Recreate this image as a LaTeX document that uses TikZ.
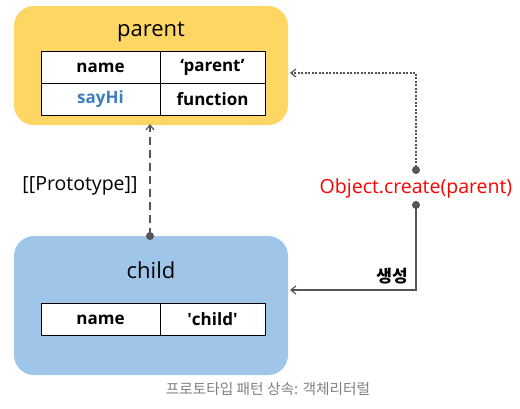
\documentclass[tikz,border=0pt]{standalone}
\usepackage{fontspec}
\setmainfont{Open Sans}
\newfontfamily\krfont{Noto Sans CJK KR}
\usetikzlibrary{arrows.meta}
\definecolor{pyellow}{HTML}{FDD663}
\definecolor{cblue}{HTML}{9FC5E8}
\definecolor{linegray}{HTML}{555555}
\definecolor{hiblue}{HTML}{3D7EBF}
\begin{document}
\begin{tikzpicture}[x=1pt,y=-1pt,
  objbox/.style={fill=#1,rounded corners=20pt,draw=none},
  cell/.style={draw=black,line width=1pt,fill=white,minimum height=32pt,inner sep=0pt,font=\fontsize{17}{17}\selectfont\bfseries},
  title/.style={font=\fontsize{22}{22}\selectfont},
  conn/.style={draw=linegray,line width=2.6pt},
  tip/.style={-{Straight Barb[length=5pt,width=8pt,line width=1.2pt]}},
  dotc/.style={circle,fill=linegray,inner sep=0pt,minimum size=8pt}]
\useasboundingbox (0,0) rectangle (520,408);
% parent
\fill[objbox=pyellow] (14,6) rectangle (288,125);
\node[title] (ptitle) at (151,32) {parent};
\node[cell,minimum width=119pt] (p11) at (100.5,67.5) {name};
\node[cell,minimum width=105pt] (p12) at (212.5,67.5) {‘parent’};
\node[cell,minimum width=119pt,text=hiblue] (p21) at (100.5,99.5) {sayHi};
\node[cell,minimum width=105pt] (p22) at (212.5,99.5) {function};
\coordinate (parentbot) at (150,124);
\coordinate (parentright) at (290,73);
% child
\fill[objbox=cblue] (14,236) rectangle (288,375);
\node[title] (ctitle) at (151,270) {child};
\node[cell,minimum width=119pt] (c11) at (100.5,319.5) {name};
\node[cell,minimum width=105pt] (c12) at (212.5,319.5) {\textquotesingle child\textquotesingle};
\coordinate (childright) at (290,290);
% prototype link
\node[dotc] (pdot) at (150,236) {};
\draw[conn,dash pattern=on 8pt off 5pt,tip] (pdot.center) -- (parentbot);
\node[font=\fontsize{19.5}{19.5}\selectfont] (proto) at (80,186) {[[Prototype]]};
% object.create
\node[text=red,font=\fontsize{19.5}{19.5}\selectfont] (oc) at (416,188) {Object.create(parent)};
\node[dotc] (d1) at (416,170) {};
\node[dotc] (d2) at (416,205) {};
\draw[draw=linegray,line width=2.2pt,dash pattern=on 2pt off 1.5pt,tip] (d1.center) |- (parentright);
\draw[draw=linegray,line width=1.5pt,tip] (d2.center) |- (childright);
\node[font=\krfont\fontsize{17}{17}\selectfont\bfseries] (gen) at (392,276) {생성};
% caption
\node[text=gray,font=\krfont\fontsize{14.7}{14.7}\selectfont] (cap) at (268,389) {프로토타입 패턴 상속: 객체리터럴};
\end{tikzpicture}
\end{document}
